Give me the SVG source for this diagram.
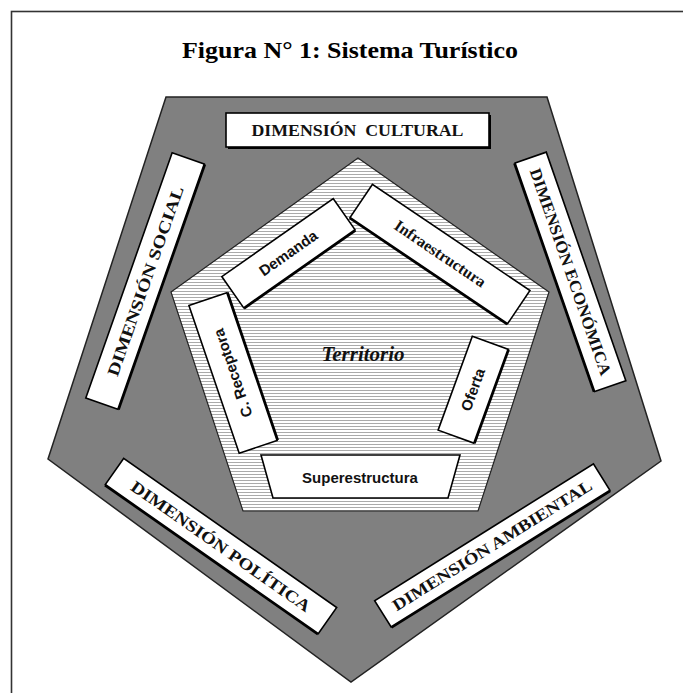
<svg xmlns="http://www.w3.org/2000/svg" width="683" height="693" viewBox="0 0 683 693">
<defs>
  <pattern id="hatch" width="4" height="3" patternUnits="userSpaceOnUse">
    <rect width="4" height="3" fill="#ffffff"/>
    <rect y="0" width="4" height="1" fill="#aaaaaa"/>
  </pattern>
  <style>
    .box{fill:#ffffff;stroke:#000000;stroke-width:1.6}
    .shadow{fill:#000000}
    .dim{font-family:"Liberation Serif","Times New Roman",serif;font-weight:bold;font-size:16.5px;fill:#111111}
    .inner{font-family:"Liberation Sans",Arial,sans-serif;font-size:15px;fill:#111111}
  </style>
</defs>
<rect width="683" height="693" fill="#ffffff"/>
<rect x="11.5" y="11.5" width="700" height="700" fill="none" stroke="#333333" stroke-width="1.6"/>
<text x="350" y="58" text-anchor="middle" font-family="'Liberation Serif','Times New Roman',serif" font-weight="bold" font-size="23" textLength="336" lengthAdjust="spacingAndGlyphs" fill="#000000">Figura N° 1: Sistema Turístico</text>

<g id="outer-pentagon">
  <polygon points="166,97 547,97 661,461 351,682 48,459" fill="#808080" stroke="#222222" stroke-width="1.5"/>
</g>
<g id="territorio">
  <polygon points="358,158 549,292 478,511 243,511 171,292" fill="url(#hatch)" stroke="#222222" stroke-width="1.2"/>
  <text x="363" y="361" text-anchor="middle" font-family="'Liberation Serif','Times New Roman',serif" font-style="italic" font-weight="bold" font-size="21" fill="#111111">Territorio</text>
</g>

<g id="connectors"></g>

<g id="dim-cultural">
  <rect x="228" y="115" width="263" height="34" class="shadow"/>
  <rect x="226" y="113" width="263" height="34" class="box"/>
  <text x="357.5" y="136" text-anchor="middle" class="dim" textLength="212" lengthAdjust="spacingAndGlyphs">DIMENSIÓN&#160; CULTURAL</text>
</g>
<g id="dim-social" transform="translate(145,281) rotate(-70.6)">
  <rect x="-130" y="-15" width="260" height="34" class="shadow"/>
  <rect x="-130" y="-17" width="260" height="34" class="box"/>
  <text x="0" y="6" text-anchor="middle" class="dim" textLength="200" lengthAdjust="spacingAndGlyphs">DIMENSIÓN SOCIAL</text>
</g>
<g id="dim-economica" transform="translate(570,272) rotate(70.8)">
  <rect x="-121" y="-15" width="242" height="33" class="shadow"/>
  <rect x="-121" y="-17" width="242" height="33" class="box"/>
  <text x="0" y="5" text-anchor="middle" class="dim" textLength="218" lengthAdjust="spacingAndGlyphs">DIMENSIÓN ECONÓMICA</text>
</g>
<g id="dim-politica" transform="translate(221,546) rotate(35)">
  <rect x="-130" y="-14" width="260" height="32" class="shadow"/>
  <rect x="-130" y="-16" width="260" height="32" class="box"/>
  <text x="0" y="6" text-anchor="middle" class="dim" textLength="215" lengthAdjust="spacingAndGlyphs">DIMENSIÓN POLÍTICA</text>
</g>
<g id="dim-ambiental" transform="translate(492,545) rotate(-32)">
  <rect x="-129" y="-13" width="258" height="31" class="shadow"/>
  <rect x="-129" y="-15" width="258" height="31" class="box"/>
  <text x="0" y="6" text-anchor="middle" class="dim" textLength="232" lengthAdjust="spacingAndGlyphs">DIMENSIÓN AMBIENTAL</text>
</g>

<g id="demanda" transform="translate(289,254) rotate(-35)">
  <rect x="-68" y="-18" width="136" height="38" class="shadow"/>
  <rect x="-68" y="-20" width="136" height="38" class="box"/>
  <text x="0" y="4" text-anchor="middle" class="inner" font-weight="bold">Demanda</text>
</g>
<g id="infraestructura" transform="translate(440,254) rotate(34)">
  <rect x="-95" y="-18" width="190" height="40" class="shadow"/>
  <rect x="-95" y="-20" width="190" height="40" class="box"/>
  <text x="0" y="5" text-anchor="middle" font-family="'Liberation Serif','Times New Roman',serif" font-weight="bold" font-size="16" fill="#111111">Infraestructura</text>
</g>
<g id="receptora" transform="translate(233,373) rotate(-108.8)">
  <rect x="-78" y="-18" width="156" height="40" class="shadow"/>
  <rect x="-78" y="-20" width="156" height="40" class="box"/>
  <text x="0" y="5" text-anchor="middle" class="inner" font-weight="bold">C. Receptora</text>
</g>
<g id="oferta" transform="translate(474,390) rotate(-70)">
  <rect x="-50" y="-18" width="100" height="38" class="shadow"/>
  <rect x="-50" y="-20" width="100" height="38" class="box"/>
  <text x="0" y="4" text-anchor="middle" class="inner" font-weight="bold">Oferta</text>
</g>
<g id="superestructura">
  <polygon points="261,455 460,455 448,498 273,498" class="box" stroke-width="2"/>
  <text x="360" y="483" text-anchor="middle" class="inner" font-weight="bold">Superestructura</text>
</g>
</svg>
